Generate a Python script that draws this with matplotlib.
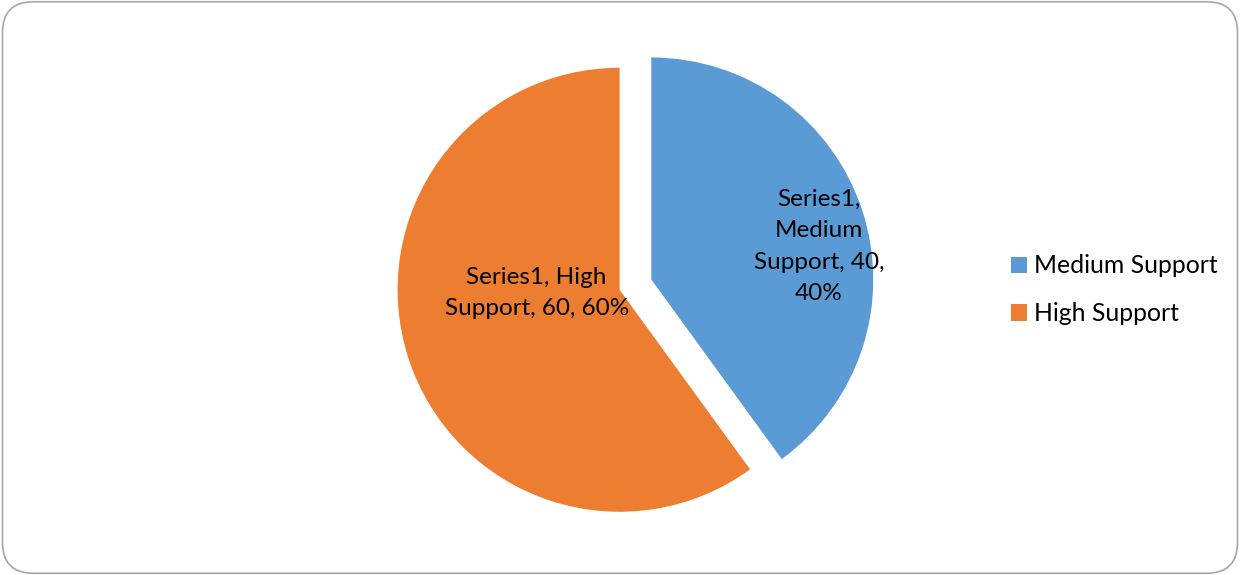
import matplotlib.pyplot as plt
from matplotlib.patches import FancyBboxPatch, Patch
import numpy as np

categories = ["Medium Support", "High Support"]
values = [40, 60]
series_name = "Series1"
colors = ["#5B9BD5", "#ED7D31"]

plt.rcParams["font.family"] = ["Lato", "DejaVu Sans"]
plt.rcParams["font.size"] = 17.5

fig = plt.figure(figsize=(12.4, 5.75), dpi=100)

# rounded chart border
border = FancyBboxPatch((0.002, 0.003), 0.996, 0.994,
                        boxstyle="round,pad=0,rounding_size=0.025",
                        transform=fig.transFigure, facecolor="white",
                        edgecolor="#A6A6A6", linewidth=1.2, mutation_aspect=2.15,
                        zorder=-10)
fig.patches.append(border)

ax = fig.add_axes([0.2976, 0.0415, 0.4297, 0.927])

total = sum(values)
wedges, _ = ax.pie(values, colors=colors, startangle=90, counterclock=False,
                   explode=[0.075, 0.075], radius=1.0)
ax.set_xlim(-1.2, 1.2)
ax.set_ylim(-1.2, 1.2)
ax.set_aspect("equal")
ax.axis("off")

label_texts = [
    f"{series_name},\nMedium\nSupport, {values[0]},\n{values[0] * 100 // total}%",
    f"{series_name}, High\nSupport, {values[1]}, {values[1] * 100 // total}%",
]
# distance of label from wedge centre (fraction of radius) and angle shift (deg)
label_dist = [0.77, 0.374]
label_shift = [-6.8, -15.8]
for w, txt, d, s in zip(wedges, label_texts, label_dist, label_shift):
    ang = np.deg2rad((w.theta1 + w.theta2) / 2 + s)
    cx, cy = w.center
    ax.text(cx + d * np.cos(ang), cy + d * np.sin(ang), txt,
            ha="center", va="center", fontsize=17.5, linespacing=1.62)

handles = [Patch(facecolor=c, edgecolor="none") for c in colors]
fig.legend(handles, categories, loc="center left", bbox_to_anchor=(0.797, 0.496),
           frameon=False, fontsize=17.8, handlelength=0.65, handleheight=0.65,
           handletextpad=0.3, labelspacing=1.0)

fig.savefig("out.png", dpi=100)
